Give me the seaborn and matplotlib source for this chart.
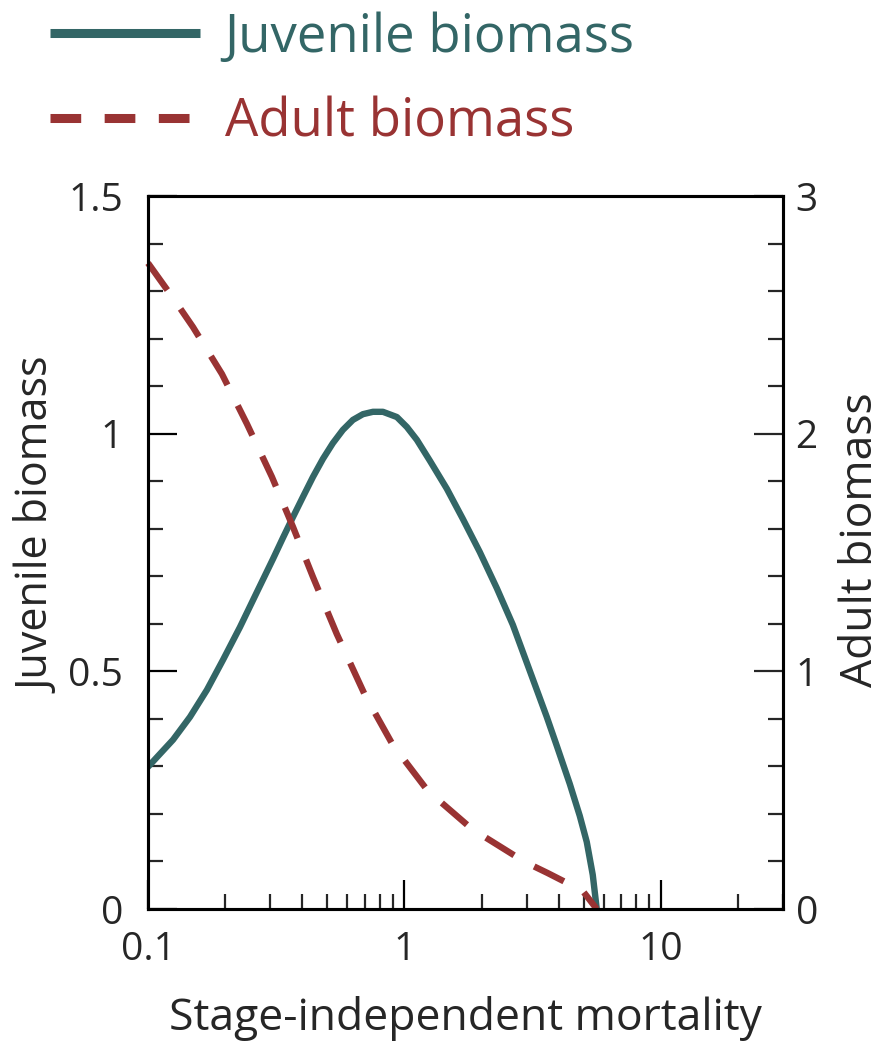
import numpy as np
import pandas as pd
import matplotlib
matplotlib.use("Agg")
import matplotlib.pyplot as plt
import matplotlib.ticker as mticker
from matplotlib.lines import Line2D
import seaborn as sns

# data
juv_mort = [0.1, 0.1252, 0.1458, 0.1698, 0.1961, 0.2284, 0.2661, 0.307,
            0.3361, 0.368, 0.4021, 0.440, 0.4812, 0.526, 0.5758, 0.630,
            0.689, 0.754, 0.825, 0.935, 1.023, 1.119, 1.258, 1.465, 1.690,
            1.969, 2.294, 2.649, 2.976, 3.286, 3.594, 3.934, 4.420, 4.833,
            5.147, 5.431, 5.63]
juv_biomass = [0.299, 0.356, 0.404, 0.461, 0.524, 0.593, 0.667, 0.736,
               0.781, 0.825, 0.867, 0.909, 0.947, 0.980, 1.008, 1.029,
               1.041, 1.046, 1.046, 1.035, 1.014, 0.987, 0.943, 0.884, 0.821,
               0.751, 0.675, 0.598, 0.524, 0.461, 0.404, 0.343, 0.263, 0.196,
               0.141, 0.072, 0.0]

adu_mort = [0.1, 0.1252, 0.1497, 0.1943, 0.2432, 0.3044, 0.368, 0.440,
            0.545, 0.702, 0.902, 1.235, 1.833, 2.951, 3.627, 4.965, 5.63]
adu_biomass = [2.718, 2.571, 2.449, 2.251, 2.041, 1.818, 1.607, 1.397, 1.157,
               0.900, 0.690, 0.497, 0.337, 0.198, 0.151, 0.076, 0.0]

teal = "#336666"
red = "#993333"

df_juv = pd.DataFrame({"mortality": juv_mort, "biomass": juv_biomass})
df_adu = pd.DataFrame({"mortality": adu_mort, "biomass": adu_biomass})

sns.set_style("ticks")
plt.rcParams['font.family'] = ['Open Sans', 'DejaVu Sans']

fig = plt.figure(figsize=(8.9, 10.41), dpi=100)
ax = fig.add_axes([0.1663, 0.1268, 0.7135, 0.6849])
ax2 = ax.twinx()

sns.lineplot(data=df_juv, x="mortality", y="biomass", ax=ax, color=teal,
             linewidth=4.6, legend=False)
sns.lineplot(data=df_adu, x="mortality", y="biomass", ax=ax2, color=red,
             linewidth=4.6, legend=False)
ax.lines[0].set_solid_joinstyle("round")
ax2.lines[0].set_dashes((5.2, 3.6))
ax2.lines[0].set_clip_on(False)

ax.set_xscale("log")
ax.set_xlim(0.1, 30)
ax.set_ylim(0, 1.5)
ax2.set_ylim(0, 3)

ax.xaxis.set_major_locator(mticker.FixedLocator([0.1, 1, 10]))
ax.xaxis.set_major_formatter(mticker.FixedFormatter(["0.1", "1", "10"]))
ax.xaxis.set_minor_locator(mticker.LogLocator(base=10, subs=np.arange(2, 10)))
ax.xaxis.set_minor_formatter(mticker.NullFormatter())

ax.set_yticks([0, 0.5, 1, 1.5])
ax.set_yticklabels(["0", "0.5", "1", "1.5"])
ax.yaxis.set_minor_locator(mticker.MultipleLocator(0.1))
ax2.set_yticks([0, 1, 2, 3])
ax2.set_yticklabels(["0", "1", "2", "3"])
ax2.yaxis.set_minor_locator(mticker.MultipleLocator(0.2))

for a in (ax, ax2):
    for s in a.spines.values():
        s.set_visible(True)
        s.set_linewidth(2.2)
        s.set_color("black")

ax.tick_params(axis="both", which="major", direction="in", length=21,
               width=1.6, labelsize=28, color="black", top=False, right=False)
ax.tick_params(axis="both", which="minor", direction="in", length=10.5,
               width=1.6, top=False, right=False)
ax.tick_params(axis="y", which="major", pad=18)
ax.tick_params(axis="x", which="major", pad=16)
ax2.tick_params(axis="y", which="major", direction="in", length=21, width=1.6,
                labelsize=28, pad=9)
ax2.tick_params(axis="y", which="minor", direction="in", length=10.5, width=1.6)

ax.set_xlabel("Stage-independent mortality", fontsize=32, labelpad=19)
ax.set_ylabel("Juvenile biomass", fontsize=31)
ax.yaxis.set_label_coords(-0.137, 0.537)
ax2.set_ylabel("Adult biomass", fontsize=32)
ax2.yaxis.set_label_coords(1.087, 0.5175)

handles = [Line2D([], [], color=teal, linewidth=6.5, solid_capstyle="butt"),
           Line2D([], [], color=red, linewidth=6.5, dashes=(3.4, 2.6),
                  dash_capstyle="butt")]
leg = fig.legend(handles=handles, labels=["Juvenile biomass", "Adult biomass"],
                 loc="upper left", bbox_to_anchor=(50 / 890, 1 - 11 / 1041),
                 frameon=False, fontsize=38, handlelength=2.84,
                 handletextpad=0.47, labelspacing=0.6, borderpad=0,
                 borderaxespad=0)
for txt, c in zip(leg.get_texts(), [teal, red]):
    txt.set_color(c)

fig.savefig("out.png", dpi=100)
